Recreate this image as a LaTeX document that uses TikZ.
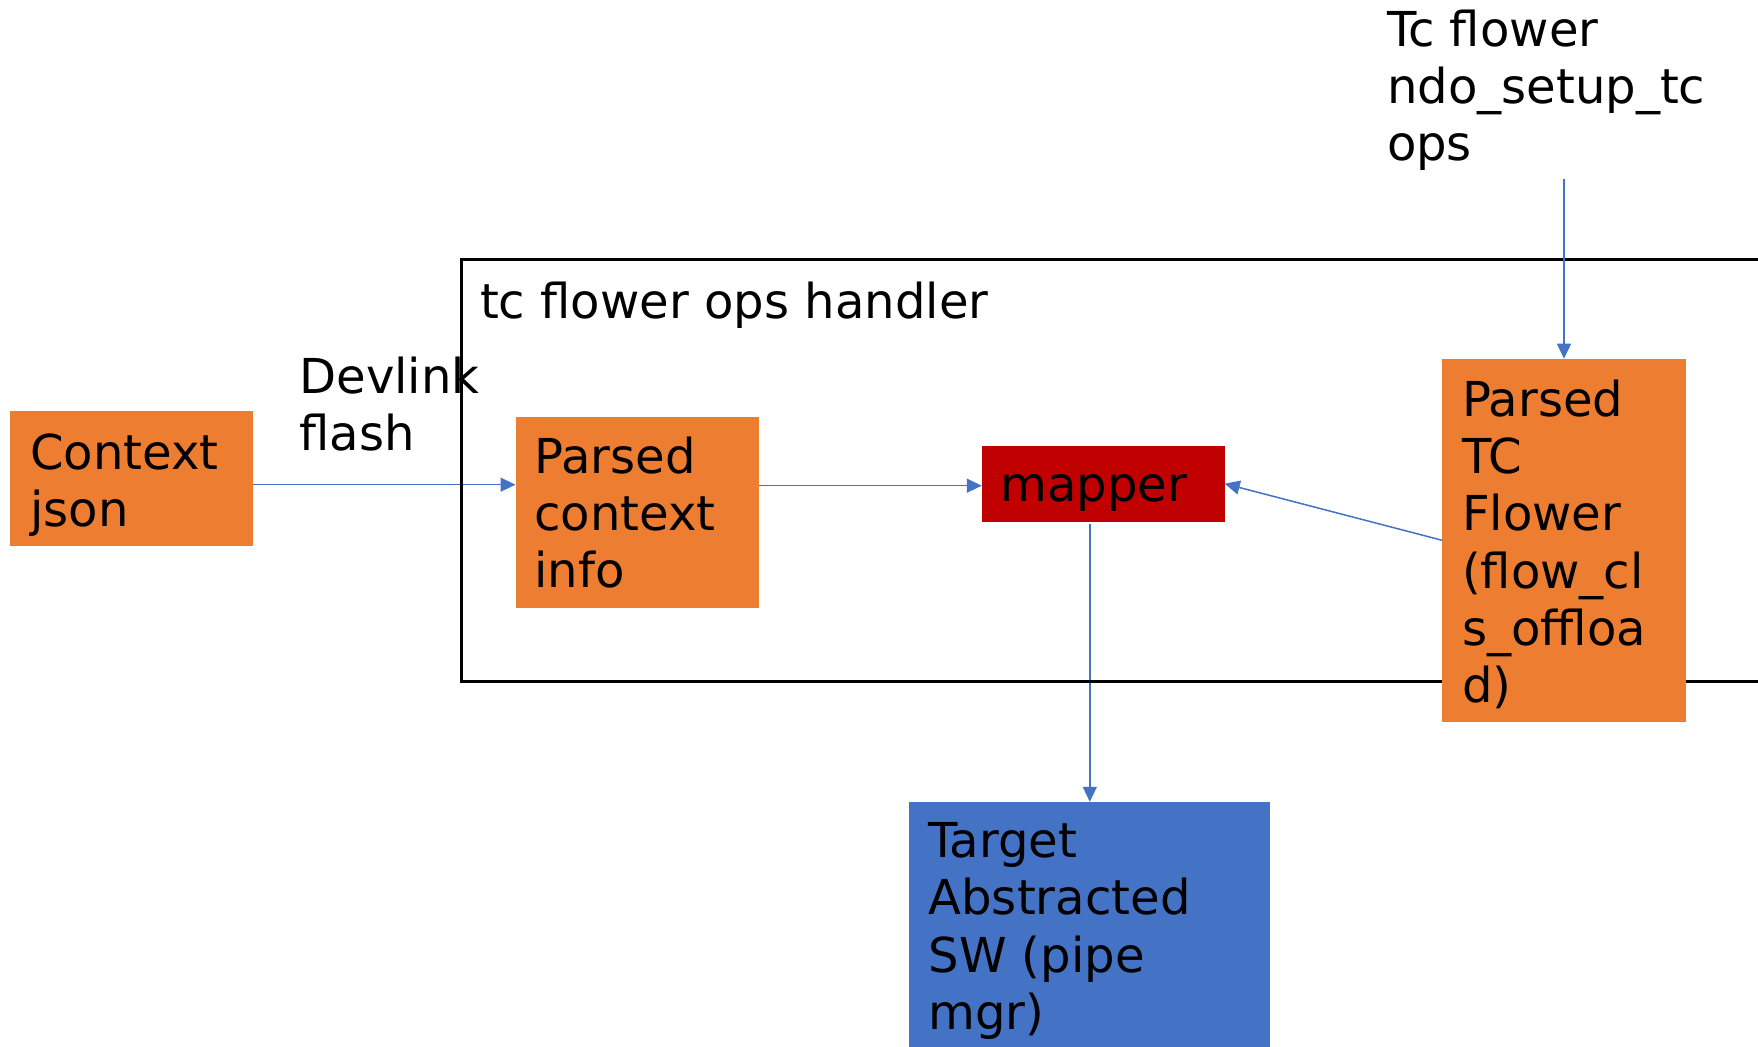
\documentclass[tikz,border=0pt]{standalone}
\usepackage{fontspec}
\setmainfont{DejaVu Sans}
\usetikzlibrary{arrows.meta}

\definecolor{boxorange}{HTML}{ED7D31}
\definecolor{boxred}{HTML}{C00000}
\definecolor{boxblue}{HTML}{4472C4}
\definecolor{linkblue}{HTML}{4472C4}

% multi-line label whose base is the first line's baseline
\newcommand{\stackedtext}[1]{\begin{tabular}[t]{@{}l@{}}#1\end{tabular}}

\tikzset{
  box/.style={rectangle, inner sep=0pt, outer sep=0pt},
  txt/.style={anchor=base west, inner sep=0pt, outer sep=0pt,
              font=\fontsize{24.05pt}{28.65pt}\selectfont},
  arr/.style={draw=linkblue, line width=0.75pt,
              -{Triangle[length=7.5pt,width=7pt]}},
}

\begin{document}
\begin{tikzpicture}[x=0.5pt, y=-0.5pt]
  \useasboundingbox (0,0) rectangle (1758,1047);

  % boxes
  \node[box, fill=boxorange, minimum width=121.5pt, minimum height=67.5pt]
    (ctx) at (131.5,478.7) {};
  \node[box, fill=boxorange, minimum width=121.75pt, minimum height=95.5pt]
    (pc) at (637.25,512.2) {};
  \node[box, fill=boxred, minimum width=121.5pt, minimum height=38pt]
    (mp) at (1103.25,483.7) {};
  \node[box, fill=boxblue, minimum width=180.5pt, minimum height=129.1pt]
    (tg) at (1089.8,930.9) {};

  % connectors
  \coordinate (tcsrc) at (1564,179.3);
  \draw[arr] ([yshift=-3pt]ctx.east) coordinate (a1) -- (a1 -| pc.west);
  \draw[arr] ([yshift=-1pt]pc.east |- mp.west) coordinate (a2) -- (a2 -| mp.west);
  \draw[arr] ([yshift=-1pt]mp.south -| tg.north) -- (tg.north);

  % handler frame
  \node[box, draw=black, line width=1.5pt, minimum width=659.5pt, minimum height=211pt]
    (hd) at (1120.5,471) {};

  \node[box, fill=boxorange, minimum width=121.7pt, minimum height=181.65pt]
    (tc) at (1564,540.35) {};
  \draw[arr] (tcsrc) -- (tc.north);
  \draw[arr] (tc.west) -- (mp.east);

  % labels
  \node[txt] (tctx) at (30.2,469.3) {\stackedtext{Context\\json}};
  \node[txt] (tdev) at (299.5,393.3) {\stackedtext{Devlink\\flash}};
  \node[txt] (thd) at (480,318.3) {tc flower ops handler};
  \node[txt] (tpc) at (534.5,473.3) {\stackedtext{Parsed\\context\\info}};
  \node[txt] (tmp) at (1000.5,501.7) {mapper};
  \node[txt] (tops) at (1387,46.2) {\stackedtext{Tc flower\\ndo\_setup\_tc\\ops}};
  \node[txt] (ttc) at (1462,416.2)
    {\stackedtext{Parsed\\TC\\Flower\\(flow\_cl\\s\_offloa\\d)}};
  \node[txt] (ttg) at (928.5,857.6)
    {\stackedtext{Target\\Abstracted\\SW (pipe\\mgr)}};
\end{tikzpicture}
\end{document}
